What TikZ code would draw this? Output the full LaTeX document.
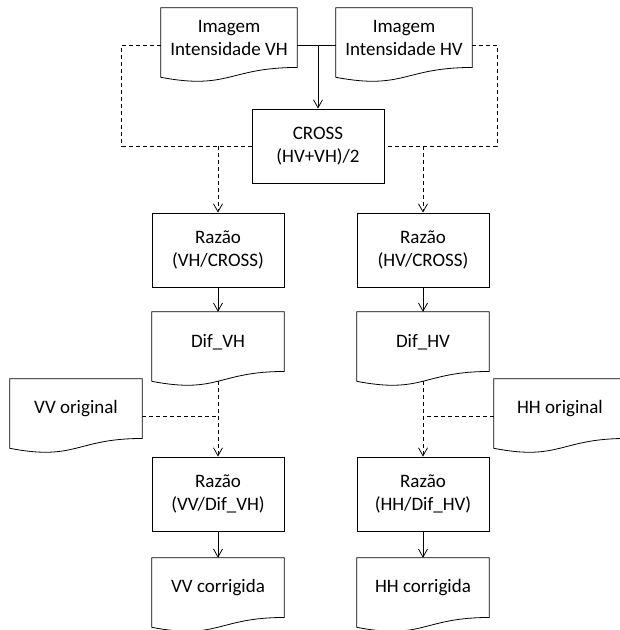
\documentclass[tikz,border=0pt]{standalone}
\usepackage{fontspec}
\setmainfont{Carlito}
\usetikzlibrary{arrows.meta,calc}
\begin{document}
\begin{tikzpicture}[x=1pt,y=-1pt,
  every node/.style={font=\fontsize{19}{23}\selectfont, align=center},
  proc/.style={draw, line width=0.8pt, minimum width=132pt, minimum height=74pt, inner sep=0pt},
  docnode/.style={minimum width=132pt, minimum height=74pt, inner sep=0pt},
  doctext/.style={yshift=7pt, inner sep=0pt},
  conn/.style={line width=0.8pt},
  dashconn/.style={conn, dash pattern=on 4pt off 3pt},
  arr/.style={-{Straight Barb[length=8pt,width=9pt]}},
  ]
\clip (0,0) rectangle (620,630);
\fill[white] (0,0) rectangle (620,630);
% document-shaped nodes
\node[docnode, minimum width=136pt, label={[doctext]center:Imagem\\Intensidade VH}] (vh) at (229,45) {};
\node[docnode, minimum width=136pt, label={[doctext]center:Imagem\\Intensidade HV}] (hv) at (404,45) {};
\node[docnode, label={[doctext]center:Dif\_VH}] (difvh) at (218,349) {};
\node[docnode, label={[doctext]center:Dif\_HV}] (difhv) at (423,349) {};
\node[docnode, label={[doctext]center:VV original}] (vvo) at (76,416) {};
\node[docnode, label={[doctext]center:HH original}] (hho) at (560,416) {};
\node[docnode, label={[doctext]center:VV corrigida}] (vvc) at (218,595) {};
\node[docnode, label={[doctext]center:HH corrigida}] (hhc) at (423,595) {};
% process boxes
\node[proc] (cross) at (318,146) {CROSS\\(HV+VH)/2};
\node[proc] (razvh) at (218,250) {Razão\\(VH/CROSS)};
\node[proc] (razhv) at (423,250) {Razão\\(HV/CROSS)};
\node[proc] (razvv) at (218,494) {Razão\\(VV/Dif\_VH)};
\node[proc] (razhh) at (423,494) {Razão\\(HH/Dif\_HV)};
% document outlines
\foreach \n in {vh,hv,difvh,difhv,vvo,hho,vvc,hhc}{
  \draw[conn] (\n.north west) -- (\n.north east) -- ($(\n.north east)!0.802!(\n.south east)$)
    .. controls ($(\n.north)!0.802!(\n.south)$) and ($(\n.north)!1.1075!(\n.south)$)
    .. ($(\n.north west)!0.934!(\n.south west)$) -- cycle;
}
% connectors
\draw[conn] (vh.east) -- (hv.west);
\draw[conn, arr] (cross.north |- vh.east) -- (cross.north);
\draw[dashconn] (vh.west) -- ++(-39,0) |- (cross.west);
\draw[dashconn] (hv.east) -- ++(25,0) |- (cross.east);
\draw[dashconn, arr] (razvh.north |- cross.west) -- (razvh.north);
\draw[dashconn, arr] (razhv.north |- cross.east) -- (razhv.north);
\draw[conn, arr] (razvh) -- (difvh);
\draw[conn, arr] (razhv) -- (difhv);
\draw[dashconn, arr] ($(difvh.north)!0.933!(difvh.south)$) -- (razvv.north);
\draw[dashconn, arr] ($(difhv.north)!0.933!(difhv.south)$) -- (razhh.north);
\draw[dashconn] (vvo.east) -- (razvv.north |- vvo.east);
\draw[dashconn] (hho.west) -- (razhh.north |- hho.west);
\draw[conn, arr] (razvv) -- (vvc);
\draw[conn, arr] (razhh) -- (hhc);
\end{tikzpicture}
\end{document}
